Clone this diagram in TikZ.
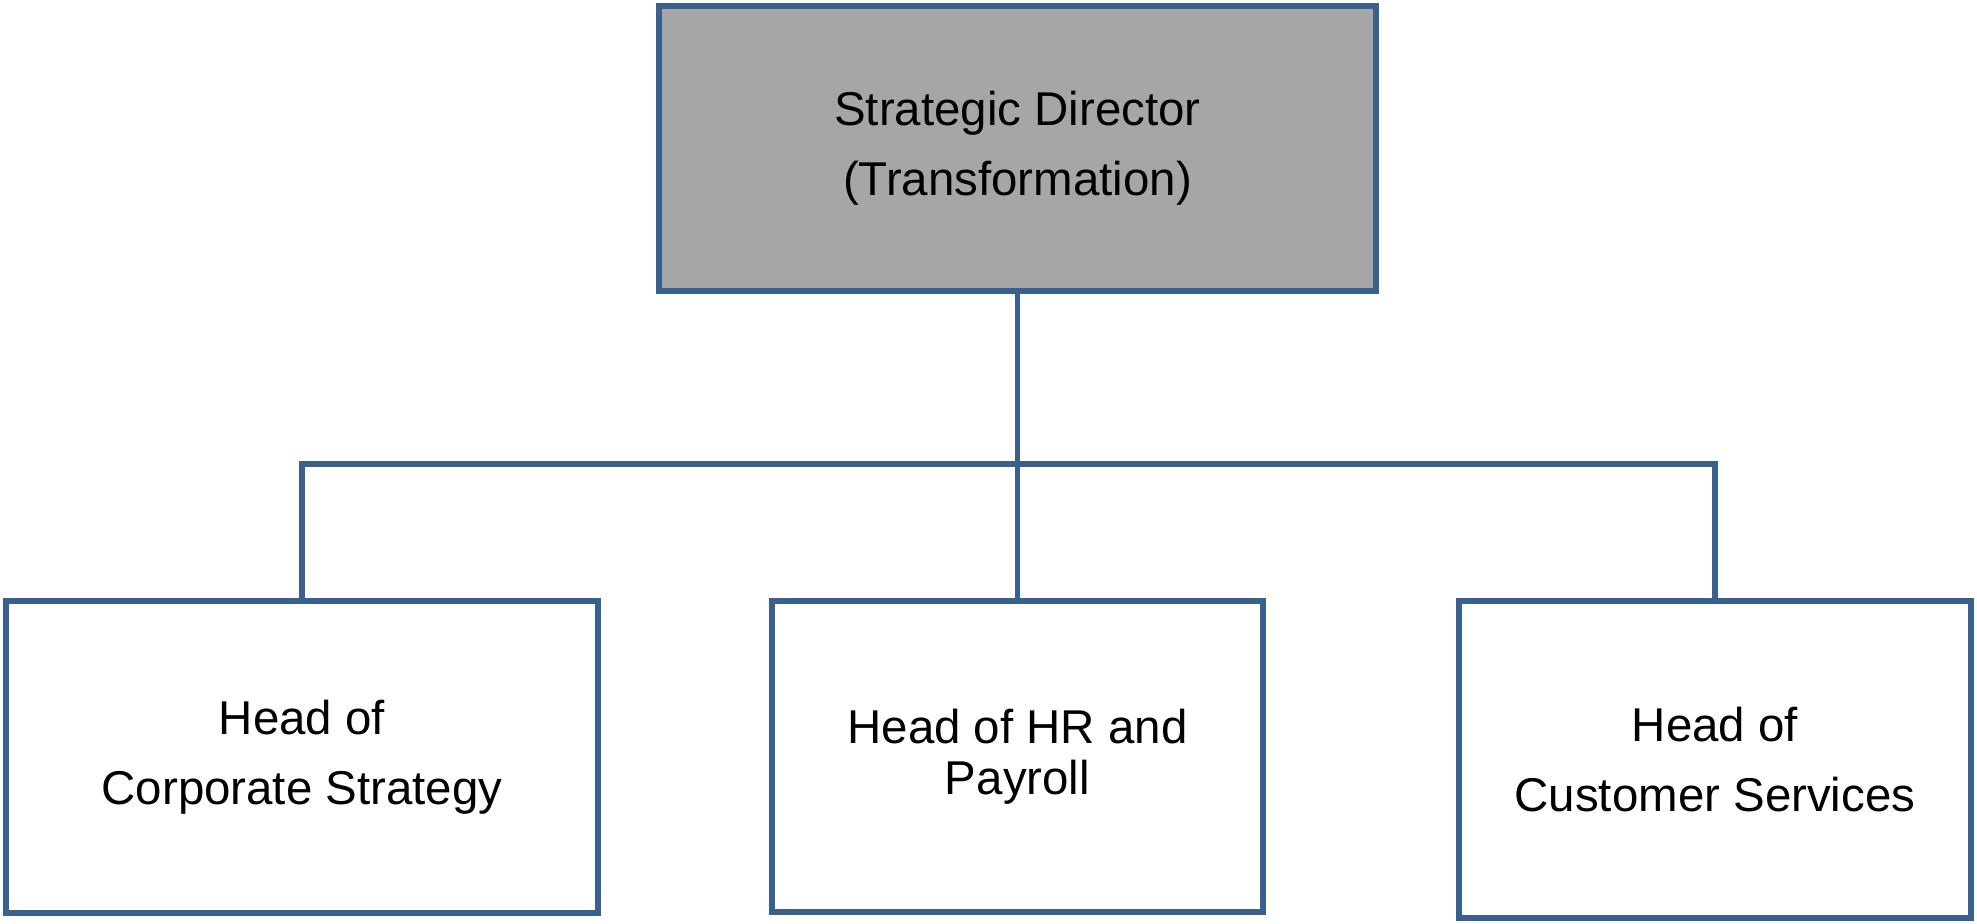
\documentclass[tikz,border=0pt]{standalone}
\usepackage{fontspec}
\setmainfont{Liberation Sans}
\definecolor{boxline}{RGB}{58,96,142}
\definecolor{headfill}{RGB}{166,166,166}
\tikzset{
  post/.style={draw=boxline, line width=1.5pt, align=center, inner sep=0pt,
    font=\fontsize{13.5}{19.9}\selectfont},
  link/.style={draw=boxline, line width=1.5pt}
}
\begin{document}
\begin{tikzpicture}
		\useasboundingbox (0,0) rectangle (19.77,-9.23);
		% top post
		\node[post, fill=headfill, minimum width=7.17cm, minimum height=2.85cm] (director) at (10.175,-1.485) {Strategic Director\\(Transformation)};
		% three heads
		\node[post, minimum width=5.92cm, minimum height=3.12cm] (strategy) at (3.02,-7.57) {Head of\\Corporate Strategy};
		\node[post, minimum width=4.91cm, minimum height=3.11cm, font=\fontsize{13.5}{14.4}\selectfont] (hr) at (10.175,-7.565) {Head of HR and\\Payroll};
		\node[post, minimum width=5.12cm, minimum height=3.17cm] (customer) at (17.15,-7.595) {Head of\\Customer Services};
		\coordinate (bus) at (10.175,-4.64);
		\draw[link] (director.south) -- (bus);
		\draw[link] (strategy.north) -- (strategy.north |- bus) -- (customer.north |- bus) -- (customer.north);
		\draw[link] (bus) -- (hr.north);
		\end{tikzpicture}
\end{document}
